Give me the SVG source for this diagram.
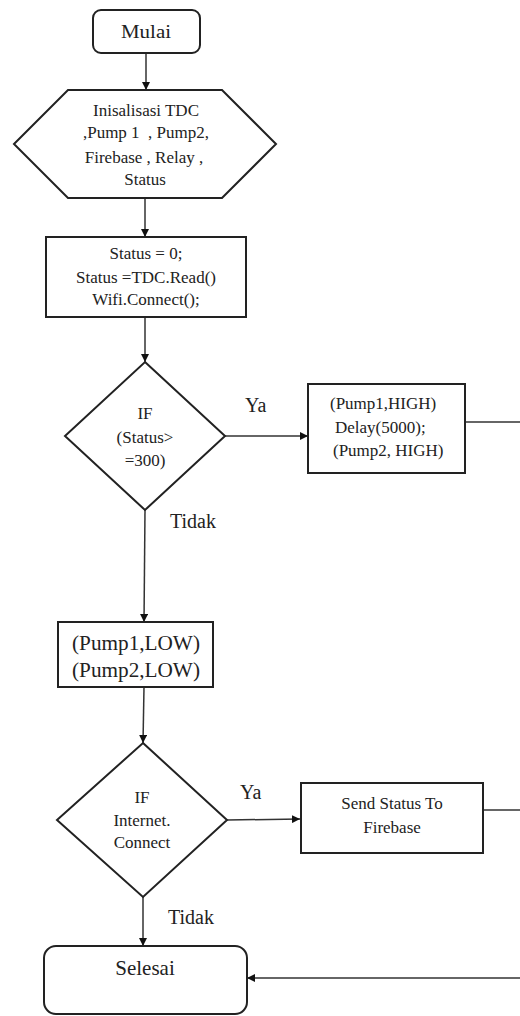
<svg xmlns="http://www.w3.org/2000/svg" width="520" height="1016" viewBox="0 0 520 1016" font-family="'Liberation Serif', 'DejaVu Serif', serif">
<style>
.shape{fill:#fff;stroke:#222;stroke-width:2}
.conn{fill:none;stroke:#333;stroke-width:1.5}
text{font-family:'Liberation Serif','DejaVu Serif',serif;fill:#222;font-size:17px}
.c{text-anchor:middle}
.lbl{font-size:20px}
</style>
<defs>
<marker id="arr" viewBox="0 0 10 10" refX="10" refY="5" markerWidth="8" markerHeight="8" markerUnits="userSpaceOnUse" orient="auto">
<path d="M0,0 L10,5 L0,10 Z" fill="#111"/>
</marker>
</defs>
<rect width="520" height="1016" fill="#fff"/>
<g id="connectors">
<line class="conn" x1="146" y1="53" x2="146" y2="90" marker-end="url(#arr)"/>
<line class="conn" x1="145" y1="198" x2="145" y2="237" marker-end="url(#arr)"/>
<line class="conn" x1="145" y1="317" x2="145" y2="362" marker-end="url(#arr)"/>
<line class="conn" x1="225" y1="436" x2="308" y2="436" marker-end="url(#arr)"/>
<line class="conn" x1="465" y1="422" x2="520" y2="422"/>
<line class="conn" x1="145" y1="510" x2="144" y2="622" marker-end="url(#arr)"/>
<line class="conn" x1="144" y1="687" x2="143" y2="743" marker-end="url(#arr)"/>
<line class="conn" x1="227" y1="820" x2="300" y2="819" marker-end="url(#arr)"/>
<line class="conn" x1="480" y1="810" x2="520" y2="810"/>
<line class="conn" x1="143" y1="897" x2="143" y2="946" marker-end="url(#arr)"/>
<line class="conn" x1="520" y1="978" x2="247" y2="978" marker-end="url(#arr)"/>
<text class="lbl" x="245" y="412">Ya</text>
<text class="lbl" x="170" y="528">Tidak</text>
<text class="lbl" x="240" y="799">Ya</text>
<text class="lbl" x="168" y="924">Tidak</text>
</g>
<g id="start">
<rect class="shape" x="93" y="10" width="107" height="43" rx="8"/>
<text class="c" x="146" y="38" style="font-size:19px" textLength="50" lengthAdjust="spacingAndGlyphs">Mulai</text>
</g>
<g id="init">
<polygon class="shape" points="14,144 68,90 222,90 276,144 222,198 68,198"/>
<text class="c" x="146" y="116">Inisalisasi TDC</text>
<text class="c" x="146" y="138" xml:space="preserve">,Pump 1  , Pump2,</text>
<text class="c" x="144" y="163">Firebase , Relay ,</text>
<text class="c" x="145" y="185">Status</text>
</g>
<g id="process1">
<rect class="shape" x="46" y="237" width="200" height="80"/>
<text class="c" x="146" y="259">Status = 0;</text>
<text class="c" x="146" y="283">Status =TDC.Read()</text>
<text class="c" x="146" y="305">Wifi.Connect();</text>
</g>
<g id="decision1">
<polygon class="shape" points="145,362 225,436 145,510 65,436"/>
<text class="c" x="145" y="419">IF</text>
<text class="c" x="145" y="443">(Status&gt;</text>
<text class="c" x="145" y="466">=300)</text>
</g>
<g id="pumpHigh">
<rect class="shape" x="308" y="384" width="157" height="89"/>
<text x="330" y="409">(Pump1,HIGH)</text>
<text x="335" y="433">Delay(5000);</text>
<text x="333" y="456">(Pump2, HIGH)</text>
</g>
<g id="pumpLow">
<rect class="shape" x="58" y="622" width="155" height="65"/>
<text class="c" x="136" y="650" style="font-size:20px" textLength="128" lengthAdjust="spacingAndGlyphs">(Pump1,LOW)</text>
<text class="c" x="136" y="677" style="font-size:20px" textLength="128" lengthAdjust="spacingAndGlyphs">(Pump2,LOW)</text>
</g>
<g id="decision2">
<polygon class="shape" points="143,743 227,820 143,897 57,820"/>
<text class="c" x="142" y="803">IF</text>
<text class="c" x="142" y="826">Internet.</text>
<text class="c" x="142" y="848">Connect</text>
</g>
<g id="sendFirebase">
<rect class="shape" x="301" y="783" width="182" height="70"/>
<text class="c" x="392" y="809">Send Status To</text>
<text class="c" x="392" y="833">Firebase</text>
</g>
<g id="end">
<rect class="shape" x="44" y="946" width="203" height="68" rx="12"/>
<text class="c" x="145" y="975" style="font-size:21px">Selesai</text>
</g>
</svg>
